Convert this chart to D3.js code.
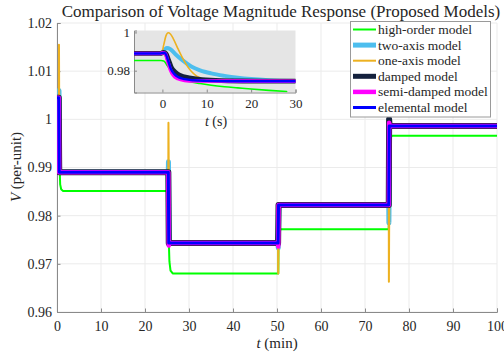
<!DOCTYPE html>
<html>
<head>
<meta charset="utf-8">
<script src="https://cdn.jsdelivr.net/npm/d3@7"></script>
<style>
  body { margin: 0; background: #fff; }
  text { font-family: "Liberation Serif", "DejaVu Serif", serif; fill: #262626; }
</style>
</head>
<body>
<svg id="chart" width="504" height="355"></svg>
<script>
// tick values
const mainTicksX = [0, 10, 20, 30, 40, 50, 60, 70, 80, 90, 100];
const mainTicksY = [0.96, 0.97, 0.98, 0.99, 1, 1.01, 1.02];
const insetTicksX = [0, 10, 20, 30];
const insetTicksY = [0.98, 1];

// legend / series
const seriesNames = ["high-order model", "two-axis model", "one-axis model",
  "damped model", "semi-damped model", "elemental model"];
const seriesColors = ["#00ff00", "#4dbeee", "#edb120", "#14213d", "#ff00ff", "#0000ff"];
const seriesWidths = [2, 5, 2, 6, 4.5, 3];

// main plot: [t (min), V (pu)]
const highOrderMain = [[0, 1.0045], [0.45, 1.0045], [0.6, 0.99], [0.72, 0.9865], [0.95, 0.9855], [1.4, 0.9851],
  [25.3, 0.9851], [25.4, 0.975], [25.55, 0.9705], [25.8, 0.9686], [26.3, 0.968],
  [50.3, 0.968], [50.35, 0.975], [50.6, 0.977], [51, 0.9772],
  [75.4, 0.9772], [75.5, 0.995], [75.8, 0.9963], [76.2, 0.9966], [100, 0.9966]];
const twoAxisMain = [[0, 1.0045], [0.4, 1.0045], [0.45, 1.006], [0.6, 0.989],
  [25.3, 0.989], [25.33, 0.9912], [25.5, 0.9743],
  [50.25, 0.9743], [50.28, 0.9733], [50.45, 0.9822],
  [75.4, 0.9822], [75.43, 0.9785], [75.6, 0.9986], [100, 0.9986]];
const oneAxisMain = [[0, 1.0045], [0.42, 1.0045], [0.45, 1.0155], [0.55, 0.989],
  [25.3, 0.989], [25.33, 0.9993], [25.5, 0.9743],
  [50.25, 0.9743], [50.28, 0.968], [50.45, 0.9822],
  [75.4, 0.9822], [75.43, 0.9663], [75.6, 0.9986], [100, 0.9986]];
const dampedMain = [[0, 1.0045], [0.4, 1.0045], [0.5, 0.989],
  [25.3, 0.989], [25.4, 0.9743],
  [50.25, 0.9743], [50.35, 0.9822],
  [75.4, 0.9822], [75.48, 1.0], [75.6, 0.9986], [100, 0.9986]];
const semiDampedMain = [[0, 1.0045], [0.4, 1.0045], [0.5, 0.989],
  [25.3, 0.989], [25.4, 0.9738], [25.5, 0.9743],
  [50.25, 0.9743], [50.3, 0.9736], [50.35, 0.9822],
  [75.4, 0.9822], [75.48, 0.9993], [75.6, 0.9986], [100, 0.9986]];
const elementalMain = [[0, 1.0045], [0.4, 1.0045], [0.5, 0.989],
  [25.3, 0.989], [25.4, 0.9743],
  [50.25, 0.9743], [50.35, 0.9822],
  [75.4, 0.9822], [75.5, 0.9986], [100, 0.9986]];

// inset: [t (s), V (pu)] around the second event
const highOrderInset = [[-6.4, 0.9853], [-0.3, 0.9853], [0.3, 0.9851], [1, 0.983], [2, 0.9797], [3, 0.9775],
  [4, 0.9761], [5, 0.9751], [6.5, 0.9741], [8.5, 0.9733], [11, 0.9724], [14, 0.9716], [17, 0.971],
  [20, 0.9704], [24, 0.9697], [28, 0.9691]];
const twoAxisInset = [[-6.4, 0.989], [-0.3, 0.989], [0.3, 0.9905], [1, 0.9918], [1.8, 0.9912], [3, 0.9885],
  [4.5, 0.9855], [6.5, 0.9822], [8.5, 0.9802], [11, 0.9786], [14, 0.9773], [17, 0.9763], [20, 0.9756],
  [24, 0.975], [30, 0.9746]];
const oneAxisInset = [[-6.4, 0.989], [-0.2, 0.989], [0.3, 0.9935], [0.8, 0.9982], [1.3, 0.9998], [1.8, 0.9992],
  [2.5, 0.9965], [3.5, 0.9915], [4.5, 0.9868], [5.5, 0.9828], [6.5, 0.9797], [7.5, 0.9776], [8.5, 0.9763],
  [10, 0.9752], [13, 0.9746], [30, 0.9745]];
const dampedInset = [[-6.4, 0.989], [-0.5, 0.989], [0.3, 0.9895], [0.8, 0.989], [1.4, 0.9855], [2, 0.9818],
  [3, 0.979], [4, 0.9775], [6, 0.9763], [8, 0.9756], [12, 0.9749], [18, 0.9746], [30, 0.9745]];
const semiDampedInset = [[-6.4, 0.989], [-0.5, 0.989], [0.3, 0.9894], [0.7, 0.9888], [1.2, 0.985], [1.8, 0.9805],
  [2.5, 0.9775], [3.5, 0.9758], [5, 0.9749], [7, 0.9746], [30, 0.9745]];
const elementalInset = [[-6.4, 0.989], [-0.5, 0.989], [0.3, 0.9894], [0.7, 0.9889], [1.3, 0.9852], [1.9, 0.981],
  [2.7, 0.9782], [3.7, 0.9765], [5, 0.9756], [7, 0.975], [10, 0.9747], [15, 0.9745], [30, 0.9745]];

const mainSeries = [highOrderMain, twoAxisMain, oneAxisMain, dampedMain, semiDampedMain, elementalMain];
const insetSeries = [highOrderInset, twoAxisInset, oneAxisInset, dampedInset, semiDampedInset, elementalInset];

const svg = d3.select("#chart");

// ---- main axes ----
const x = d3.scaleLinear().domain([0, 100]).range([57, 497]);
const y = d3.scaleLinear().domain([0.96, 1.02]).range([312, 23]);

svg.append("clipPath").attr("id", "clipMain")
  .append("rect").attr("x", 57).attr("y", 23).attr("width", 440).attr("height", 289);

// grid
svg.append("g").selectAll("line").data(mainTicksX).join("line")
  .attr("x1", d => x(d)).attr("x2", d => x(d)).attr("y1", 23).attr("y2", 312)
  .attr("stroke", "#ebebeb").attr("stroke-width", 1);
svg.append("g").selectAll("line").data(mainTicksY).join("line")
  .attr("y1", d => y(d)).attr("y2", d => y(d)).attr("x1", 57).attr("x2", 497)
  .attr("stroke", "#ebebeb").attr("stroke-width", 1);

// axes (ticks pointing in)
const xAxis = svg.append("g").attr("transform", "translate(0,312)")
  .call(d3.axisBottom(x).tickValues(mainTicksX).tickSize(-3.5).tickPadding(8).tickFormat(d3.format("d")));
const yAxis = svg.append("g").attr("transform", "translate(57,0)")
  .call(d3.axisLeft(y).tickValues(mainTicksY).tickSize(-3.5).tickPadding(5)
    .tickFormat(d => d === 1 ? "1" : d3.format(".2f")(d)));
[xAxis, yAxis].forEach(a => {
  a.select(".domain").attr("stroke", "#8a8a8a");
  a.selectAll(".tick line").attr("stroke", "#8a8a8a");
  a.selectAll(".tick text").style("font-family", "Liberation Serif, serif").style("font-size", "14px").attr("fill", "#262626");
});
xAxis.selectAll(".tick text").attr("dy", "0.75em");

const lineMain = d3.line().x(d => x(d[0])).y(d => y(d[1]));
const gMain = svg.append("g").attr("clip-path", "url(#clipMain)");
mainSeries.forEach((s, i) => {
  gMain.append("path").datum(s).attr("d", lineMain)
    .attr("fill", "none").attr("stroke", seriesColors[i]).attr("stroke-width", seriesWidths[i])
    .attr("stroke-linejoin", "round").attr("stroke-linecap", "round");
});

// labels
svg.append("text").attr("x", 281).attr("y", 17).attr("text-anchor", "middle")
  .style("font-size", "17px").text("Comparison of Voltage Magnitude Response (Proposed Models)");
const xl = svg.append("text").attr("x", 277).attr("y", 348).attr("text-anchor", "middle").style("font-size", "15px");
xl.append("tspan").style("font-style", "italic").text("t");
xl.append("tspan").text(" (min)");
const yl = svg.append("text").attr("transform", "translate(21,167) rotate(-90)").attr("text-anchor", "middle").style("font-size", "15px");
yl.append("tspan").style("font-style", "italic").text("V");
yl.append("tspan").text(" (per-unit)");

// ---- inset ----
const xi = d3.scaleLinear().domain([-6.4, 30]).range([134, 295.5]);
const yi = d3.scaleLinear().domain([0.9686, 1.001]).range([92.5, 30.5]);

svg.append("rect").attr("x", 134).attr("y", 30.5).attr("width", 161.5).attr("height", 62)
  .attr("fill", "#e5e5e5");
svg.append("clipPath").attr("id", "clipInset")
  .append("rect").attr("x", 134).attr("y", 30.5).attr("width", 161.5).attr("height", 62);

const xiAxis = svg.append("g").attr("transform", "translate(0,92.5)")
  .call(d3.axisBottom(xi).tickValues(insetTicksX).tickSize(-3).tickPadding(6).tickFormat(d3.format("d")));
const yiAxis = svg.append("g").attr("transform", "translate(134,0)")
  .call(d3.axisLeft(yi).tickValues(insetTicksY).tickSize(-3).tickPadding(4)
    .tickFormat(d => d === 1 ? "1" : d3.format(".2f")(d)));
[xiAxis, yiAxis].forEach(a => {
  a.select(".domain").attr("stroke", "#8a8a8a");
  a.selectAll(".tick line").attr("stroke", "#8a8a8a");
  a.selectAll(".tick text").style("font-family", "Liberation Serif, serif").style("font-size", "13px").attr("fill", "#262626");
});
xiAxis.selectAll(".tick text").attr("dy", "0.75em");

const lineInset = d3.line().x(d => xi(d[0])).y(d => yi(d[1])).curve(d3.curveMonotoneX);
const gInset = svg.append("g").attr("clip-path", "url(#clipInset)");
insetSeries.forEach((s, i) => {
  gInset.append("path").datum(s).attr("d", lineInset)
    .attr("fill", "none").attr("stroke", seriesColors[i]).attr("stroke-width", seriesWidths[i] * 0.8)
    .attr("stroke-linejoin", "round").attr("stroke-linecap", "round");
});
const xil = svg.append("text").attr("x", 216).attr("y", 126).attr("text-anchor", "middle").style("font-size", "14px");
xil.append("tspan").style("font-style", "italic").text("t");
xil.append("tspan").text(" (s)");

// ---- legend ----
const leg = svg.append("g");
leg.append("rect").attr("x", 350.5).attr("y", 21.5).attr("width", 140).attr("height", 95.5)
  .attr("fill", "#fff").attr("stroke", "#9a9a9a").attr("stroke-width", 1);
seriesNames.forEach((name, i) => {
  const yy = 29.5 + i * 15.6;
  leg.append("line").attr("x1", 353).attr("x2", 376).attr("y1", yy).attr("y2", yy)
    .attr("stroke", seriesColors[i]).attr("stroke-width", Math.min(seriesWidths[i], 5));
  leg.append("text").attr("x", 378).attr("y", yy).attr("dy", "0.33em")
    .style("font-size", "13.5px").text(name);
});
</script>
</body>
</html>
